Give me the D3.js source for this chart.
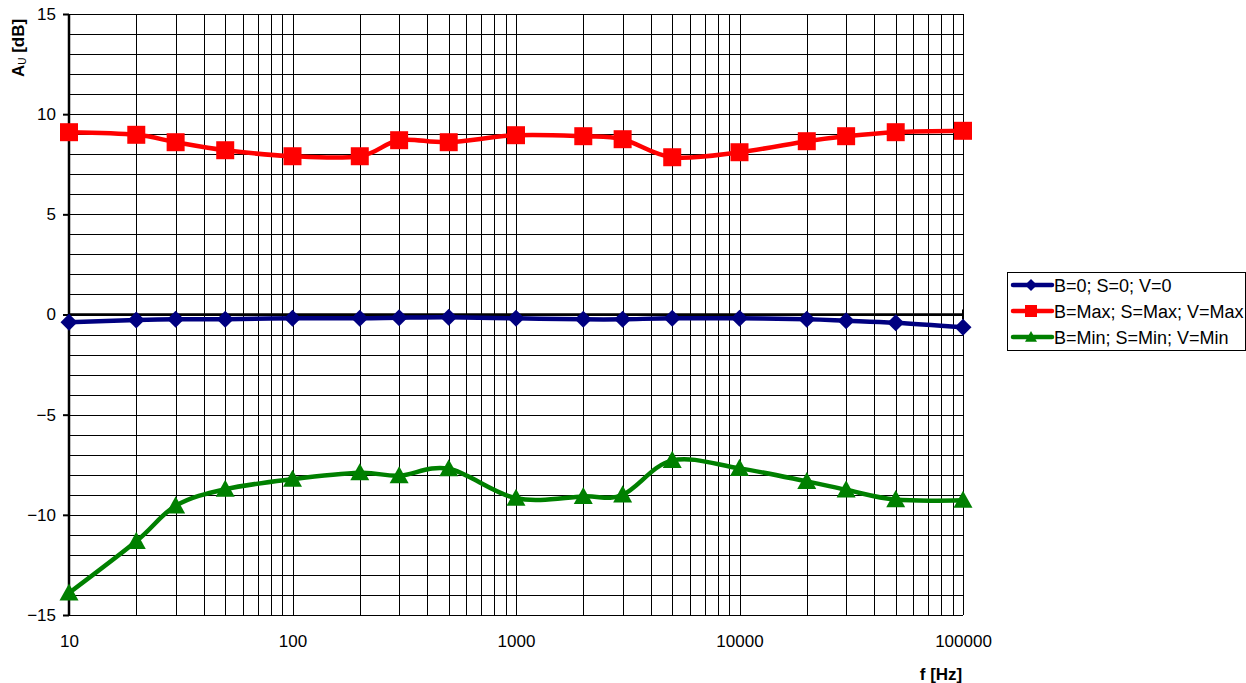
<!DOCTYPE html>
<html>
<head>
<meta charset="utf-8">
<script src="https://cdn.jsdelivr.net/npm/d3@7"></script>
<style>
  html, body { margin: 0; padding: 0; background: #fff; }
  svg { display: block; font-family: Arial, "Liberation Sans", sans-serif; }
</style>
</head>
<body>
<svg id="chart" width="1246" height="683"></svg>
<script>
// Frequency points (Hz)
const freqs = [10, 20, 30, 50, 100, 200, 300, 500, 1000, 2000, 3000, 5000, 10000, 20000, 30000, 50000, 100000];

// Gain in dB for each tone-control setting
const flatGain = [-0.39, -0.28, -0.24, -0.24, -0.19, -0.19, -0.16, -0.14, -0.19, -0.24, -0.24, -0.19, -0.19, -0.24, -0.31, -0.41, -0.64];
const maxGain  = [9.1, 8.97, 8.6, 8.2, 7.9, 7.9, 8.7, 8.6, 8.95, 8.9, 8.75, 7.85, 8.1, 8.65, 8.9, 9.1, 9.17];
const minGain  = [-13.9, -11.32, -9.55, -8.72, -8.22, -7.9, -8.05, -7.7, -9.17, -9.08, -9.0, -7.28, -7.68, -8.33, -8.75, -9.24, -9.27];

const seriesNames = ["B=0; S=0; V=0", "B=Max; S=Max; V=Max", "B=Min; S=Min; V=Min"];
const seriesColors = ["#000080", "#ff0000", "#008000"];

const yTicks = [-15, -10, -5, 0, 5, 10, 15];
const xTicks = [10, 100, 1000, 10000, 100000];

// Marker shapes: diamond, square, triangle (r = half-size)
const markerPath = [
  r => `M0,${-r}L${r},0L0,${r}L${-r},0Z`,
  r => `M${-r},${-r}H${r}V${r}H${-r}Z`,
  r => `M0,${-r}L${r},${r * 0.8}H${-r}Z`
];

const series = [flatGain, maxGain, minGain].map((vals, i) => ({
  name: seriesNames[i], color: seriesColors[i], marker: markerPath[i],
  points: freqs.map((f, j) => ({ f, v: vals[j] }))
}));

const svg = d3.select("#chart");
const plot = { left: 69, right: 963, top: 14, bottom: 615 };

const x = d3.scaleLog().domain([10, 100000]).range([plot.left, plot.right]);
const y = d3.scaleLinear().domain([-15, 15]).range([plot.bottom, plot.top]);

// Horizontal grid: every 1 dB
const g = svg.append("g");
g.selectAll("line.hgrid").data(d3.range(-15, 16)).join("line")
  .attr("x1", plot.left).attr("x2", plot.right)
  .attr("y1", d => Math.round(y(d)) + 0.5).attr("y2", d => Math.round(y(d)) + 0.5)
  .attr("stroke", "#000").attr("stroke-width", 1);

// Vertical grid: every decade subdivision
const vLines = [];
for (let dec = 10; dec <= 100000; dec *= 10) {
  for (let m = 1; m <= 9; m++) {
    const f = dec * m;
    if (f > 100000) break;
    vLines.push(f);
  }
}
g.selectAll("line.vgrid").data(vLines).join("line")
  .attr("y1", plot.top).attr("y2", plot.bottom)
  .attr("x1", d => Math.round(x(d)) + 0.5).attr("x2", d => Math.round(x(d)) + 0.5)
  .attr("stroke", "#000").attr("stroke-width", 1);

// Left axis line and ticks
svg.append("line")
  .attr("x1", plot.left).attr("x2", plot.left)
  .attr("y1", plot.top).attr("y2", plot.bottom + 1)
  .attr("stroke", "#000").attr("stroke-width", 2.5);

const yAxis = d3.axisLeft(y).tickValues(yTicks).tickSize(6).tickPadding(7).tickFormat(d3.format("d"));
const ya = svg.append("g").attr("transform", `translate(${plot.left},0)`).call(yAxis);
ya.select(".domain").remove();
ya.selectAll(".tick line").attr("stroke", "#000").attr("stroke-width", 2);
ya.selectAll(".tick text").attr("font-size", 17).attr("fill", "#000")
  .attr("font-family", "Arial, 'Liberation Sans', sans-serif");

// Zero line (horizontal axis crossing)
svg.append("line")
  .attr("x1", plot.left).attr("x2", plot.right)
  .attr("y1", y(0)).attr("y2", y(0))
  .attr("stroke", "#000").attr("stroke-width", 2.5);
svg.append("line")
  .attr("x1", plot.right).attr("x2", plot.right)
  .attr("y1", y(0) - 5).attr("y2", y(0) + 5)
  .attr("stroke", "#000").attr("stroke-width", 2);

// X tick labels below plot
const xAxis = d3.axisBottom(x).tickValues(xTicks).tickSize(0).tickPadding(20).tickFormat(d3.format("d"));
const xa = svg.append("g").attr("transform", `translate(0,${plot.bottom})`).call(xAxis);
xa.select(".domain").remove();
xa.selectAll(".tick text").attr("font-size", 17).attr("fill", "#000")
  .attr("font-family", "Arial, 'Liberation Sans', sans-serif");

// Series lines (smoothed) and markers
const line = d3.line().x(d => x(d.f)).y(d => y(d.v)).curve(d3.curveCatmullRom.alpha(0));
series.forEach(s => {
  svg.append("path").datum(s.points)
    .attr("d", line).attr("fill", "none")
    .attr("stroke", s.color).attr("stroke-width", 4.5)
    .attr("stroke-linejoin", "round");
});
const markerR = [8.5, 9, 9.5];
series.forEach((s, i) => {
  svg.append("g").selectAll("path").data(s.points).join("path")
    .attr("transform", d => `translate(${x(d.f)},${y(d.v)})`)
    .attr("d", s.marker(markerR[i]))
    .attr("fill", s.color);
});

// Axis titles
const yTitle = svg.append("text")
  .attr("transform", "translate(24,48) rotate(-90)")
  .attr("text-anchor", "middle")
  .attr("font-size", 17).attr("font-weight", "bold").attr("fill", "#000");
yTitle.append("tspan").text("A");
yTitle.append("tspan").text("U").attr("font-size", 10).attr("font-weight", "normal").attr("dy", 2);
yTitle.append("tspan").text(" [dB]").attr("dy", -2);

svg.append("text")
  .attr("x", 941).attr("y", 680)
  .attr("text-anchor", "middle")
  .attr("font-size", 17).attr("font-weight", "bold").attr("fill", "#000")
  .text("f [Hz]");

// Legend
const legend = svg.append("g").attr("transform", "translate(1007,272)");
legend.append("rect").attr("x", 0.5).attr("y", 0.5).attr("width", 238).attr("height", 78)
  .attr("fill", "#fff").attr("stroke", "#000").attr("stroke-width", 1);
series.forEach((s, i) => {
  const row = legend.append("g").attr("transform", `translate(0,${13 + i * 26})`);
  row.append("line").attr("x1", 6).attr("x2", 45).attr("y1", 0).attr("y2", 0)
    .attr("stroke", s.color).attr("stroke-width", 4.5).attr("stroke-linecap", "round");
  row.append("path").attr("transform", "translate(24,0)")
    .attr("d", s.marker(6)).attr("fill", s.color);
  row.append("text").attr("x", 47).attr("y", 6.5)
    .attr("font-size", 18).attr("fill", "#000").text(s.name);
});
</script>
</body>
</html>
